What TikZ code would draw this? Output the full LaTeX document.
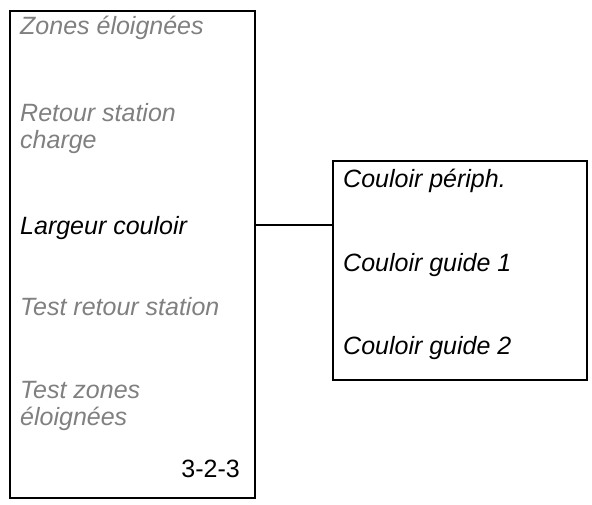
\documentclass[tikz,border=0pt]{standalone}
\usepackage{fontspec}
\setmainfont{Liberation Sans}
\usepackage{tikz}
\usetikzlibrary{positioning}

\definecolor{inactive}{RGB}{128,128,128}

\begin{document}
\begin{tikzpicture}[
    x=1pt, y=-1pt,
    panel/.style={rectangle, draw=black, line width=1.7pt, fill=white,
                  anchor=north west, inner sep=0pt},
    item/.style={anchor=base west, inner sep=0pt, align=left,
                 font=\fontsize{25}{27}\selectfont\itshape, text=inactive},
    active/.style={item, text=black},
    code/.style={anchor=base east, inner sep=0pt,
                 font=\fontsize{25}{27}\selectfont},
    link/.style={line width=1.7pt}
  ]
  \useasboundingbox (0,0) rectangle (592,504);

  % menu on the left
  \node[panel, minimum width=245pt, minimum height=487pt] (menu) at (9,10) {};
  \node[item]   (zones)   at (20,34)  {Zones éloignées};
  \node[item]   (retour)  at (20,148) {Retour station\\charge};
  \node[active] (largeur) at (20,234) {Largeur couloir};
  \node[item]   (testret) at (20,315) {Test retour station};
  \node[item]   (testzon) at (20,425) {Test zones\\éloignées};
  \node[code]   (num)     at (240,477) {3-2-3};

  % submenu on the right
  \node[panel, minimum width=254pt, minimum height=219pt] (sub) at (332,160) {};
  \node[active] (periph) at (343,187) {Couloir périph.};
  \node[active] (guide1) at (343,271) {Couloir guide 1};
  \node[active] (guide2) at (343,354) {Couloir guide 2};

  \coordinate (hook) at (0,225);
  \draw[link] (hook -| menu.east) -- (hook -| sub.west);

\end{tikzpicture}
\end{document}
